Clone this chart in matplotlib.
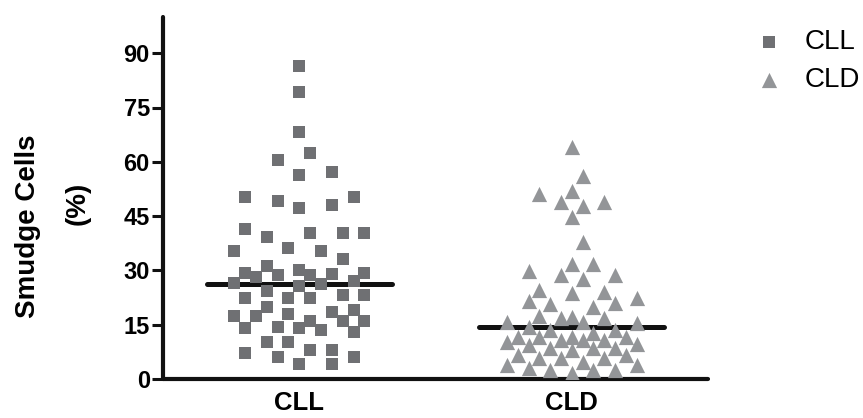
import numpy as np
import matplotlib
matplotlib.use('Agg')
import matplotlib.pyplot as plt

plt.rcParams['font.family'] = ['Liberation Sans', 'DejaVu Sans']

# values (Smudge cells, %)
groups = ['CLL', 'CLD']
cll_values = [50.2, 40.3, 29.3, 24.2, 18.6, 15.9, 8.0,
              48.1, 40.3, 31.1, 28.8, 23.3, 17.3, 14.0, 7.1,
              60.4, 36.2, 29.0, 22.4, 16.1, 13.1, 6.2,
              26.2, 10.2,
              86.5, 79.3, 68.3, 56.3, 47.3, 35.3, 27.1, 20.0, 13.6, 4.1,
              41.3, 30.2, 25.6, 17.3, 10.2,
              57.3, 49.3, 35.3, 28.8, 22.4, 14.0, 4.1,
              33.2, 26.5, 17.9,
              62.3, 50.2, 39.2, 28.3, 22.4, 14.5, 6.2,
              19.1,
              40.3, 29.3, 23.3, 15.9, 8.0]
cld_values = [64.2, 56.0, 51.9, 51.0, 48.8, 48.8, 47.7, 44.8, 37.8, 31.9, 31.9,
              29.7, 28.8, 28.8, 27.6,
              23.7, 22.5, 21.6, 20.7, 19.8, 17.5, 16.8, 15.4, 17.0, 13.6, 13.6,
              14.5, 11.7, 9.4, 10.8, 8.7, 10.8, 8.7, 11.7, 8.0, 6.6, 5.7, 5.7,
              3.9, 3.0, 2.5, 1.6,
              24.0, 24.7, 21.0, 15.7, 15.7, 16.8, 12.6, 11.7, 11.7, 10.3, 9.6,
              10.8, 8.7, 6.6, 5.7, 4.8, 3.9, 2.5, 2.5]
yticks = [0, 15, 30, 45, 60, 75, 90]

sq_color = '#6f7073'
tri_color = '#939598'


def swarm(vals, px_x, px_y, step, a, b, kmax):
    # beeswarm: place points in value order in the slot nearest the centre
    # that is free; when the band is full take the least crowded slot
    order = np.argsort(vals)
    placed = []
    offs = np.zeros(len(vals))
    slots = [0]
    for k in range(1, kmax + 1):
        slots += [k, -k]
    for i in order:
        y = vals[i] * px_y
        best, best_d = 0, -1
        for c in slots:
            x = c * step
            d = min([((x - px) / a) ** 2 + ((y - py) / b) ** 2 for px, py in placed] or [9])
            if d >= 1:
                best = c
                break
            if d > best_d:
                best, best_d = c, d
        placed.append((best * step, y))
        offs[i] = best * step / px_x
    return offs


fig = plt.figure(figsize=(8.63, 4.18), dpi=100)
ax = fig.add_axes([163 / 863, 1 - 379 / 418, 545 / 863, 362 / 418])
ax.set_xlim(0.5, 2.5)
ax.set_ylim(0, 100)

W = 545 / 2.0   # px per x unit
H = 362 / 100.0  # px per y unit

cll = np.array(cll_values)
cld = np.array(cld_values)
x1 = 1 + swarm(cll, W, H, 10.85, 22, 22, 6)
x2 = 2 + swarm(cld, W, H, 10.8, 12, 24, 6)

# medians under the points
for xc, v in zip([1, 2], [cll, cld]):
    m = np.median(v)
    ax.plot([xc - 0.34, xc + 0.34], [m, m], color='#111111', lw=3.6,
            solid_capstyle='round', zorder=2)

ax.scatter(x1, cll, marker='s', s=85, color=sq_color, linewidths=0, zorder=3, label='CLL')
ax.scatter(x2, cld, marker='^', s=120, color=tri_color, linewidths=0, zorder=3, label='CLD')

for sp in ['top', 'right']:
    ax.spines[sp].set_visible(False)
for sp in ['left', 'bottom']:
    ax.spines[sp].set_linewidth(3)
    ax.spines[sp].set_color('#111111')
    ax.spines[sp].set_capstyle('round')

ax.set_yticks(yticks)
ax.set_yticklabels([str(t) for t in yticks], fontsize=17, fontweight='bold')
ax.tick_params(axis='y', length=8, width=2.2, pad=1.5, color='#111111')
ax.set_xticks([1, 2])
ax.set_xticklabels(groups, fontsize=18.5, fontweight='bold')
ax.tick_params(axis='x', length=0, pad=8.5)

fig.text(28 / 863, 1 - 226 / 418, 'Smudge Cells', rotation=90, fontsize=20,
         fontweight='bold', ha='center', va='center')
fig.text(78 / 863, 1 - 203 / 418, '(%)', rotation=90, fontsize=20,
         fontweight='bold', ha='center', va='center')

ax.legend(loc='upper left', bbox_to_anchor=(741 / 863, 1 - 15 / 418),
          bbox_transform=fig.transFigure, frameon=False, fontsize=20,
          scatterpoints=1, handlelength=1.0, handletextpad=0.8,
          labelspacing=0.45, borderpad=0)

fig.savefig('out.png', dpi=100)
